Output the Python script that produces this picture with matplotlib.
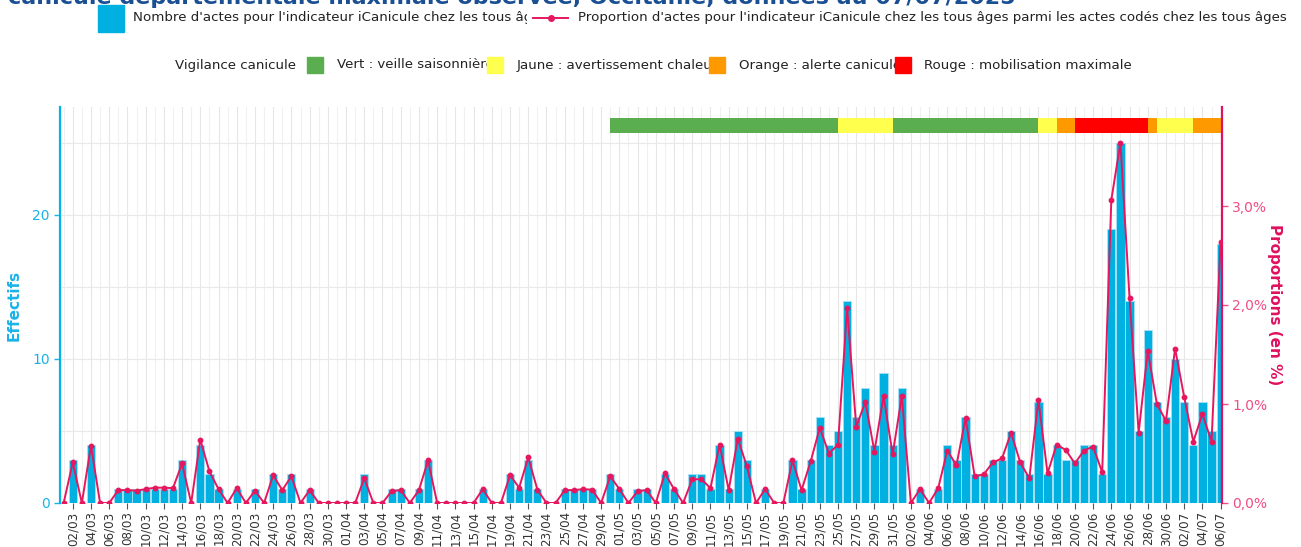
import numpy as np
import pandas as pd
import matplotlib
matplotlib.use("Agg")
from matplotlib import pyplot as plt
from matplotlib.patches import Rectangle
from matplotlib.lines import Line2D
from matplotlib.transforms import Bbox

dates = pd.date_range("2025-03-01", "2025-07-06", freq="D")

counts = [0, 3, 0, 4, 0, 0, 1, 1, 1, 1, 1, 1, 1, 3, 0, 4, 2, 1, 0, 1,
          0, 1, 0, 2, 1, 2, 0, 1, 0, 0, 0, 0, 0, 2, 0, 0, 1, 1, 0, 1,
          3, 0, 0, 0, 0, 0, 1, 0, 0, 2, 1, 3, 1, 0, 0, 1, 1, 1, 1, 0,
          2, 1, 0, 1, 1, 0, 2, 1, 0, 2, 2, 1, 4, 1, 5, 3, 0, 1, 0, 0,
          3, 1, 3, 6, 4, 5, 14, 6, 8, 4, 9, 4, 8, 0, 1, 0, 1, 4, 3, 6,
          2, 2, 3, 3, 5, 3, 2, 7, 2, 4, 3, 3, 4, 4, 2, 19, 25, 14, 5, 12,
          7, 6, 10, 7, 4, 7, 5, 18]

props = [0, 0.41, 0, 0.58, 0, 0, 0.13, 0.13, 0.125, 0.14, 0.155, 0.155, 0.15, 0.40, 0, 0.64, 0.32, 0.14, 0, 0.15,
         0, 0.125, 0, 0.28, 0.13, 0.27, 0, 0.13, 0, 0, 0, 0, 0, 0.25, 0, 0, 0.12, 0.13, 0, 0.13,
         0.43, 0, 0, 0, 0, 0, 0.14, 0, 0, 0.28, 0.155, 0.46, 0.135, 0, 0, 0.13, 0.13, 0.14, 0.135, 0,
         0.27, 0.14, 0, 0.12, 0.13, 0, 0.30, 0.14, 0, 0.24, 0.24, 0.15, 0.59, 0.13, 0.65, 0.37, 0, 0.14, 0, 0,
         0.43, 0.13, 0.42, 0.76, 0.50, 0.59, 1.97, 0.77, 1.02, 0.52, 1.08, 0.49, 1.08, 0, 0.14, 0, 0.15, 0.53, 0.38, 0.855,
         0.27, 0.29, 0.41, 0.45, 0.71, 0.41, 0.25, 1.04, 0.30, 0.59, 0.535, 0.40, 0.53, 0.57, 0.31, 3.06, 3.64, 2.07, 0.71, 1.54,
         1.00, 0.83, 1.56, 1.07, 0.62, 0.90, 0.62, 2.64]

# vigilance levels (start date, number of days, level)
vig_start = ["2025-04-30", "2025-05-25", "2025-05-31", "2025-06-16", "2025-06-18",
             "2025-06-20", "2025-06-28", "2025-06-29", "2025-07-03"]
vig_days = [25, 6, 16, 2, 2, 8, 1, 4, 4]
vig_level = ["Vert", "Jaune", "Vert", "Jaune", "Orange", "Rouge", "Orange", "Jaune", "Orange"]

vig_colors = {"Vert": "#5aae50", "Jaune": "#ffff4d", "Orange": "#ff9900", "Rouge": "#ff0000"}
vig_labels = ["Vert : veille saisonnière", "Jaune : avertissement chaleur",
              "Orange : alerte canicule", "Rouge : mobilisation maximale"]

bar_col = "#00b0e0"
line_col = "#e5175f"
left_col = "#1ab3e8"
right_col = "#e0115f"
fs_leg = 9.65

W, H = 1301, 547
fig = plt.figure(figsize=(W / 100, H / 100), dpi=100)
ax = fig.add_axes([60 / W, 1 - 503 / H, (1222 - 60) / W, (503 - 107) / H])
ax2 = ax.twinx()

x = np.arange(len(dates))
ax.bar(x, counts, width=0.9, color=bar_col, edgecolor="#a8e0f5", linewidth=0.6, zorder=2)

# vigilance strip
for s, n, lv in zip(vig_start, vig_days, vig_level):
    i0 = (pd.Timestamp(s) - dates[0]).days
    ax.broken_barh([(i0, n)], (25.7, 1.05), facecolors=vig_colors[lv],
                   edgecolor="none", zorder=3, clip_on=True)

ax2.plot(x, props, color=line_col, lw=1.4, marker="o", ms=3.2, zorder=4)

ax.set_xlim(-0.4, len(dates) - 0.85)
ax.set_ylim(0, 27.5)
ax2.set_ylim(0, 4.0)

# grid
ax.set_axisbelow(True)
ax.set_xticks(x, minor=True)
tick_idx = x[1::2]
ax.set_xticks(tick_idx)
ax.set_xticklabels([d.strftime("%d/%m") for d in dates[1::2]], rotation=90, fontsize=8.6, color="#333333")
ax.grid(axis="x", which="minor", color="#f0f0f0", lw=0.8)
ax.grid(axis="x", which="major", color="#e6e6e6", lw=0.8)
ax.set_yticks([0, 10, 20])
ax.set_yticks([5, 15, 25], minor=True)
ax.grid(axis="y", which="both", color="#e9e9e9", lw=0.8)
ax.tick_params(axis="x", which="minor", length=0)
ax.tick_params(axis="x", which="major", length=4, color="#555555", pad=2)
ax.tick_params(axis="y", which="both", length=4, colors=left_col, labelsize=10, width=1)
ax.tick_params(axis="y", which="minor", length=0)

ax2.set_yticks([0, 1, 2, 3])
ax2.set_yticklabels(["0,0%", "1,0%", "2,0%", "3,0%"])
ax2.tick_params(axis="y", length=4, colors="#ee4d85", labelsize=10, width=1)

for a in (ax, ax2):
    for sp in a.spines.values():
        sp.set_visible(False)
ax.spines["left"].set_visible(True)
ax.spines["left"].set_color("#00b4ea")
ax.spines["left"].set_linewidth(1.6)
ax2.spines["right"].set_visible(True)
ax2.spines["right"].set_color(right_col)
ax2.spines["right"].set_linewidth(1.6)

ax.set_ylabel("Effectifs", color=left_col, fontsize=11, fontweight="bold")
ax.yaxis.set_label_coords((22 - 60) / 1162, 0.5)
ax2.set_ylabel("Proportions (en %)", color=right_col, fontsize=11, fontweight="bold",
               rotation=-90, va="center")
ax2.yaxis.set_label_coords((1275 - 60) / 1162, 0.5)


def fx(px):
    return px / W


def fy(py):
    return 1 - py / H


# title (cut at top as in reference)
fig.text(fx(8), fy(4), "canicule départementale maximale observée, Occitanie, données au 07/07/2025",
         color="#1b4f93", fontsize=16, fontweight="bold", va="baseline", ha="left")

# legend row 1
fig.patches.append(Rectangle((fx(98), fy(32)), fx(26), 27 / H, transform=fig.transFigure,
                             color=bar_col, zorder=5))
t1 = fig.text(fx(133), fy(18), "Nombre d'actes pour l'indicateur iCanicule chez les tous âges",
              fontsize=fs_leg, color="#222222", va="center", ha="left")
t1.set_clip_on(True)
t1.set_clip_box(Bbox.from_extents(0, 0, 527, H))
fig.lines.append(Line2D([fx(533), fx(568)], [fy(18), fy(18)], transform=fig.transFigure,
                        color=line_col, lw=1.4))
fig.lines.append(Line2D([fx(550.5)], [fy(18)], transform=fig.transFigure, color=line_col,
                        marker="o", ms=4))
fig.text(fx(578), fy(18),
         "Proportion d'actes pour l'indicateur iCanicule chez les tous âges parmi les actes codés chez les tous âges",
         fontsize=fs_leg, color="#222222", va="center", ha="left")

# legend row 2
fig.text(fx(175), fy(65), "Vigilance canicule", fontsize=fs_leg, color="#222222", va="center", ha="left")
sq_x = [307, 487, 709, 895]
tx_x = [337, 517, 739, 924]
for lab, lv, sx, tx in zip(vig_labels, ["Vert", "Jaune", "Orange", "Rouge"], sq_x, tx_x):
    fig.text(fx(tx), fy(65), lab, fontsize=fs_leg, color="#222222", va="center", ha="left")
    fig.patches.append(Rectangle((fx(sx), fy(73)), fx(16), 16 / H, transform=fig.transFigure,
                                 color=vig_colors[lv], zorder=5))

fig.savefig("out.png", dpi=100)
